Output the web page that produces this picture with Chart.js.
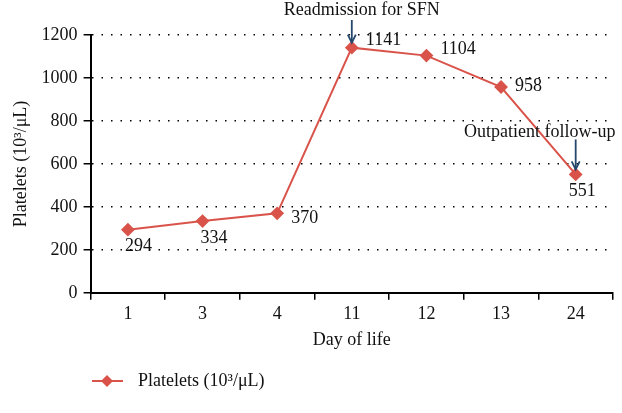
<!DOCTYPE html>
<html>
<head>
<meta charset="utf-8">
<script src="https://cdn.jsdelivr.net/npm/chart.js@4.4.0/dist/chart.umd.min.js"></script>
<style>
  html, body { margin: 0; padding: 0; background: #fff; }
  #wrap { width: 622px; height: 413px; }
</style>
</head>
<body>
<div id="wrap"><canvas id="chart"></canvas></div>
<script>
// data
const days = ["1", "3", "4", "11", "12", "13", "24"];
const platelets = [294, 334, 370, 1141, 1104, 958, 551];
const yTicks = [0, 200, 400, 600, 800, 1000, 1200];
const notes = [
    { at: 3, text: "Readmission for SFN" },
    { at: 6, text: "Outpatient follow-up" }
];

const RED = "#d9534a";
const ARROW = "#24476b";
const FONT = "'Liberation Serif', 'DejaVu Serif', serif";
const FS = 18;

// where each value label sits relative to its point: [dx, dy, align, baseline]
const labelSpots = [
    [-3, 8, "left", "top"],
    [-2, 8, "left", "top"],
    [14, 5, "left", "middle"],
    [14, -7, "left", "middle"],
    [14, -6, "left", "middle"],
    [14, -1, "left", "middle"],
    [-7, 8, "left", "top"]
];

const valueLabels = {
    id: "valueLabels",
    afterDatasetsDraw(chart) {
        const ctx = chart.ctx;
        const meta = chart.getDatasetMeta(0);
        ctx.save();
        ctx.fillStyle = "#111";
        ctx.font = FS + "px " + FONT;
        meta.data.forEach((pt, i) => {
            const s = labelSpots[i];
            ctx.textAlign = s[2];
            ctx.textBaseline = s[3];
            ctx.fillText(String(platelets[i]), pt.x + s[0], pt.y + s[1]);
        });
        ctx.restore();
    }
};

const arrowNotes = {
    id: "arrowNotes",
    afterDatasetsDraw(chart) {
        const ctx = chart.ctx;
        const meta = chart.getDatasetMeta(0);
        ctx.save();
        ctx.font = FS + "px " + FONT;
        ctx.textBaseline = "middle";
        notes.forEach(n => {
            const pt = meta.data[n.at];
            const x = pt.x, tipY = pt.y - 5;
            let topY, textY, textX;
            if (n.at === 3) { topY = 20; textY = 10; textX = x + 10; }
            else { topY = tipY - 30; textY = topY - 7; textX = x - 36; }
            ctx.fillStyle = "#111";
            ctx.textAlign = "center";
            ctx.fillText(n.text, textX, textY);
            ctx.strokeStyle = ARROW;
            ctx.lineWidth = 1.8;
            ctx.beginPath();
            ctx.moveTo(x, topY);
            ctx.lineTo(x, tipY - 1);
            ctx.stroke();
            ctx.beginPath();
            ctx.moveTo(x - 4, tipY - 8);
            ctx.lineTo(x, tipY);
            ctx.lineTo(x + 4, tipY - 8);
            ctx.stroke();
        });
        ctx.restore();
    }
};

const bottomLegend = {
    id: "bottomLegend",
    afterDraw(chart) {
        const ctx = chart.ctx;
        const y = 381;
        ctx.save();
        ctx.strokeStyle = RED;
        ctx.lineWidth = 2;
        ctx.beginPath();
        ctx.moveTo(92, y);
        ctx.lineTo(123, y);
        ctx.stroke();
        ctx.fillStyle = RED;
        ctx.beginPath();
        ctx.moveTo(107, y - 6);
        ctx.lineTo(113, y);
        ctx.lineTo(107, y + 6);
        ctx.lineTo(101, y);
        ctx.closePath();
        ctx.fill();
        ctx.fillStyle = "#111";
        ctx.font = FS + "px " + FONT;
        ctx.textAlign = "left";
        ctx.textBaseline = "middle";
        ctx.fillText("Platelets (10³/μL)", 138, y);
        ctx.restore();
    }
};

new Chart(document.getElementById("chart"), {
    type: "line",
    data: {
        labels: days,
        datasets: [{
            label: "Platelets (10³/μL)",
            data: platelets,
            borderColor: RED,
            backgroundColor: RED,
            borderWidth: 2,
            pointStyle: "rectRot",
            pointRadius: 5.5,
            pointHoverRadius: 5.5,
            tension: 0
        }]
    },
    options: {
        responsive: true,
        maintainAspectRatio: false,
        animation: false,
        layout: { padding: { top: 35, right: 9, bottom: 58, left: 6 } },
        plugins: {
            legend: { display: false },
            tooltip: { enabled: false }
        },
        scales: {
            x: {
                offset: true,
                border: { color: "#000", width: 2 },
                grid: {
                    offset: true,
                    drawOnChartArea: false,
                    color: "#000",
                    lineWidth: 1.5,
                    tickLength: 7
                },
                ticks: { color: "#111", font: { family: FONT, size: FS }, padding: 4 },
                title: {
                    display: true,
                    text: "Day of life",
                    color: "#111",
                    font: { family: FONT, size: FS },
                    padding: { top: 0 }
                }
            },
            y: {
                min: 0,
                max: 1200,
                afterBuildTicks(axis) { axis.ticks = yTicks.map(v => ({ value: v })); },
                border: { color: "#000", width: 2, dash: [1.5, 8] },
                grid: {
                    color: "#000",
                    lineWidth: 1.5,
                    tickColor: "#000",
                    tickBorderDash: [],
                    tickLength: 7
                },
                ticks: {
                    color: "#111",
                    font: { family: FONT, size: FS },
                    padding: 6,
                    callback: v => String(v)
                },
                title: {
                    display: true,
                    text: "Platelets (10³/μL)",
                    color: "#111",
                    font: { family: FONT, size: FS },
                    padding: { bottom: 4 }
                }
            }
        }
    },
    plugins: [valueLabels, arrowNotes, bottomLegend]
});
</script>
</body>
</html>
